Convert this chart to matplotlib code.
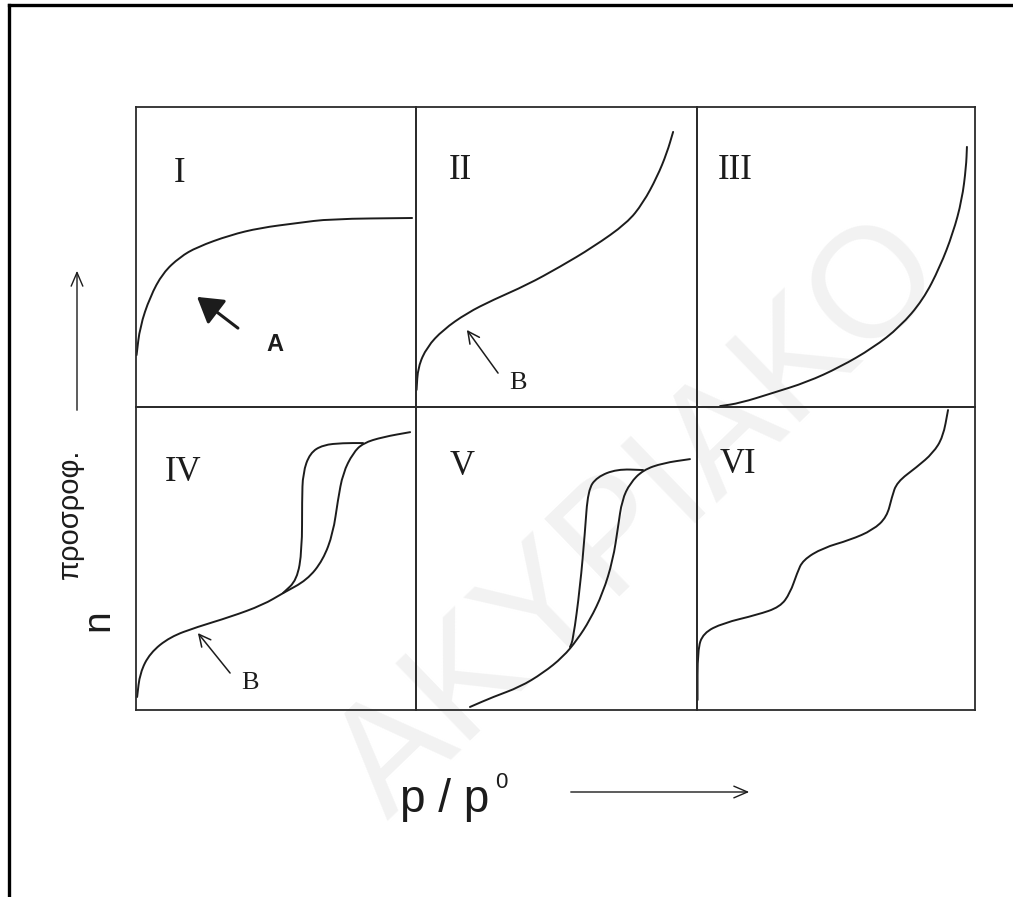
import numpy as np
import matplotlib.pyplot as plt
from matplotlib.path import Path
from matplotlib.patches import PathPatch
from matplotlib.lines import Line2D

plt.rcParams['font.family'] = ['Liberation Sans', 'DejaVu Sans']

# isotherm shapes, panel units (0-100 on both axes)
iso1_x = [0.2, 1.4, 5.0, 9.6, 15.7, 21.8, 33.6, 44.3, 57.5, 69.3, 98.6]
iso1_y = [17.3, 26.7, 36.7, 44.7, 50.0, 53.3, 57.3, 59.7, 61.3, 62.7, 63.0]

iso2_x = [0.2, 0.7, 3.9, 9.6, 18.1, 27.4, 39.5, 51.2, 63.0, 75.1, 80.8, 85.8, 89.3, 91.5]
iso2_y = [5.7, 13.3, 20.0, 25.7, 31.3, 35.7, 40.7, 46.7, 53.3, 61.3, 68.0, 76.7, 84.7, 91.7]

iso3_x = [8.3, 15.5, 27.3, 39.6, 51.4, 63.3, 73.0, 81.3, 87.4, 92.1, 95.3, 96.8, 97.1]
iso3_y = [0.3, 1.3, 4.7, 8.3, 13.3, 19.7, 26.7, 35.7, 46.7, 58.0, 69.0, 80.0, 86.7]

iso4_ads_x = [0.4, 1.4, 5.0, 12.1, 21.8, 33.6, 45.4, 52.5, 61.1, 66.8, 70.4, 72.1, 73.9, 77.5, 81.1, 88.2, 97.9]
iso4_ads_y = [4.3, 12.2, 18.8, 24.1, 27.4, 30.7, 34.7, 38.6, 42.9, 49.5, 58.4, 69.3, 78.2, 84.8, 88.1, 90.1, 91.7]
iso4_des_x = [81.1, 73.9, 66.8, 62.1, 59.6, 59.3, 59.3, 57.5, 52.5]
iso4_des_y = [88.1, 88.1, 87.5, 84.8, 78.2, 69.3, 52.8, 42.9, 38.6]

iso5_ads_x = [19.2, 27.4, 37.0, 45.2, 52.3, 57.3, 61.9, 66.5, 70.1, 71.9, 73.3, 76.2, 80.8, 87.9, 97.5]
iso5_ads_y = [1.0, 4.3, 7.6, 12.2, 17.5, 23.1, 29.7, 38.6, 49.5, 60.4, 69.3, 74.9, 79.2, 81.5, 82.8]
iso5_des_x = [80.8, 71.5, 64.4, 61.2, 60.1, 58.4, 55.9, 54.8]
iso5_des_y = [79.2, 79.5, 76.9, 72.6, 58.4, 40.6, 23.1, 20.8]

iso6_x = [0.2, 0.2, 2.2, 9.4, 21.6, 29.9, 33.5, 36.0, 38.1, 45.3, 55.0, 63.3, 68.3, 70.1, 71.9, 79.1, 84.9, 88.5, 90.3]
iso6_y = [3.3, 19.8, 25.4, 28.7, 31.4, 34.0, 38.6, 45.2, 49.5, 53.5, 56.1, 59.4, 63.7, 70.3, 75.2, 80.2, 84.8, 90.1, 99.0]

panel_names = ['I', 'II', 'III', 'IV', 'V', 'VI']
name_pos = [(15.7, 77.7), (15.7, 79.0), (13.7, 79.0), (16.8, 78.5), (16.4, 80.2), (14.7, 80.9)]

W, H = 1013, 897
fig = plt.figure(figsize=(W / 100, H / 100), dpi=100)

col_px = [136, 416, 697, 975]
row_px = [107, 407, 710]
INK = '#1c1c1c'


def panel(col, row):
    x0, x1 = col_px[col], col_px[col + 1]
    y0, y1 = row_px[row], row_px[row + 1]
    ax = fig.add_axes([x0 / W, 1 - y1 / H, (x1 - x0) / W, (y1 - y0) / H])
    ax.set_xlim(0, 100)
    ax.set_ylim(0, 100)
    ax.set_xticks([])
    ax.set_yticks([])
    ax.patch.set_alpha(0)
    for s in ax.spines.values():
        s.set_linewidth(1.3)
        s.set_color('#2b2b2b')
    return ax


def smooth(ax, xs, ys, lw=1.4):
    # quadratic bezier through the midpoints of the traced points
    pts = np.column_stack([xs, ys])
    mids = (pts[:-1] + pts[1:]) / 2
    verts = [pts[0], mids[0]]
    codes = [Path.MOVETO, Path.LINETO]
    for i in range(1, len(pts) - 1):
        verts += [pts[i], mids[i]]
        codes += [Path.CURVE3, Path.CURVE3]
    verts.append(pts[-1])
    codes.append(Path.LINETO)
    ax.add_patch(PathPatch(Path(verts, codes), fill=False, lw=lw, edgecolor=INK,
                           capstyle='round', joinstyle='round'))


axes = [panel(c, r) for r in range(2) for c in range(3)]

smooth(axes[0], iso1_x, iso1_y)
smooth(axes[1], iso2_x, iso2_y)
smooth(axes[2], iso3_x, iso3_y)
smooth(axes[3], iso4_ads_x, iso4_ads_y)
smooth(axes[3], iso4_des_x, iso4_des_y)
smooth(axes[4], iso5_ads_x, iso5_ads_y)
smooth(axes[4], iso5_des_x, iso5_des_y)
smooth(axes[5], iso6_x, iso6_y)

for ax, name, (nx, ny) in zip(axes, panel_names, name_pos):
    ax.text(nx, ny, name, family=['Liberation Serif', 'DejaVu Serif'], fontsize=25,
            ha='center', va='center', color=INK)

# pointers to the knee of the isotherms
axes[0].annotate('', xy=(21.8, 36.7), xytext=(36.4, 26.3),
                 arrowprops=dict(arrowstyle='-|>,head_length=0.9,head_width=0.55',
                                 lw=2.2, color=INK, mutation_scale=17, shrinkA=0, shrinkB=0))
axes[0].text(49.6, 20.7, 'A', fontsize=17, fontweight='bold', ha='center', va='center', color=INK)

axes[1].annotate('', xy=(18.1, 25.7), xytext=(29.2, 11.3),
                 arrowprops=dict(arrowstyle='->,head_length=0.6,head_width=0.3',
                                 lw=1.1, color=INK, mutation_scale=14, shrinkA=0, shrinkB=0))
axes[1].text(36.3, 8.0, 'B', family=['Liberation Serif', 'DejaVu Serif'], fontsize=19,
             ha='center', va='center', color=INK)

axes[3].annotate('', xy=(22.1, 25.4), xytext=(33.6, 12.2),
                 arrowprops=dict(arrowstyle='->,head_length=0.6,head_width=0.3',
                                 lw=1.1, color=INK, mutation_scale=14, shrinkA=0, shrinkB=0))
axes[3].text(40.7, 8.9, 'B', family=['Liberation Serif', 'DejaVu Serif'], fontsize=19,
             ha='center', va='center', color=INK)

# axis captions with their arrows
fig.text(98 / W, 1 - 620 / H, 'n', rotation=90, fontsize=28, ha='center', va='center', color=INK)
fig.text(70 / W, 1 - 514 / H, 'προσροφ.', rotation=90, fontsize=21, ha='center', va='center', color=INK)
fig.add_artist(plt.Annotation('', xy=(77 / W, 1 - 268 / H), xytext=(77 / W, 1 - 413 / H),
                              xycoords='figure fraction', textcoords='figure fraction',
                              arrowprops=dict(arrowstyle='->,head_length=0.7,head_width=0.3',
                                              lw=1.0, color=INK, mutation_scale=14)))

fig.text(445 / W, 1 - 800 / H, 'p / p', fontsize=33, ha='center', va='center', color=INK)
fig.text(501 / W, 1 - 782 / H, '0', fontsize=16, ha='center', va='center', color=INK)
fig.add_artist(plt.Annotation('', xy=(752 / W, 1 - 792 / H), xytext=(568 / W, 1 - 792 / H),
                              xycoords='figure fraction', textcoords='figure fraction',
                              arrowprops=dict(arrowstyle='->,head_length=0.7,head_width=0.3',
                                              lw=1.0, color=INK, mutation_scale=14)))

# page frame
fig.add_artist(Line2D([9 / W, 9 / W], [0, 1 - 5 / H], lw=2.4, color='black'))
fig.add_artist(Line2D([9 / W, 1], [1 - 5 / H, 1 - 5 / H], lw=2.4, color='black'))

# faint watermark behind everything
fig.text(640 / W, 1 - 520 / H, 'ΑΚΥΡΙΑΚΟ', rotation=44, fontsize=112, color='#f2f2f2',
         ha='center', va='center', zorder=-1)

fig.savefig('out.png', dpi=100)
